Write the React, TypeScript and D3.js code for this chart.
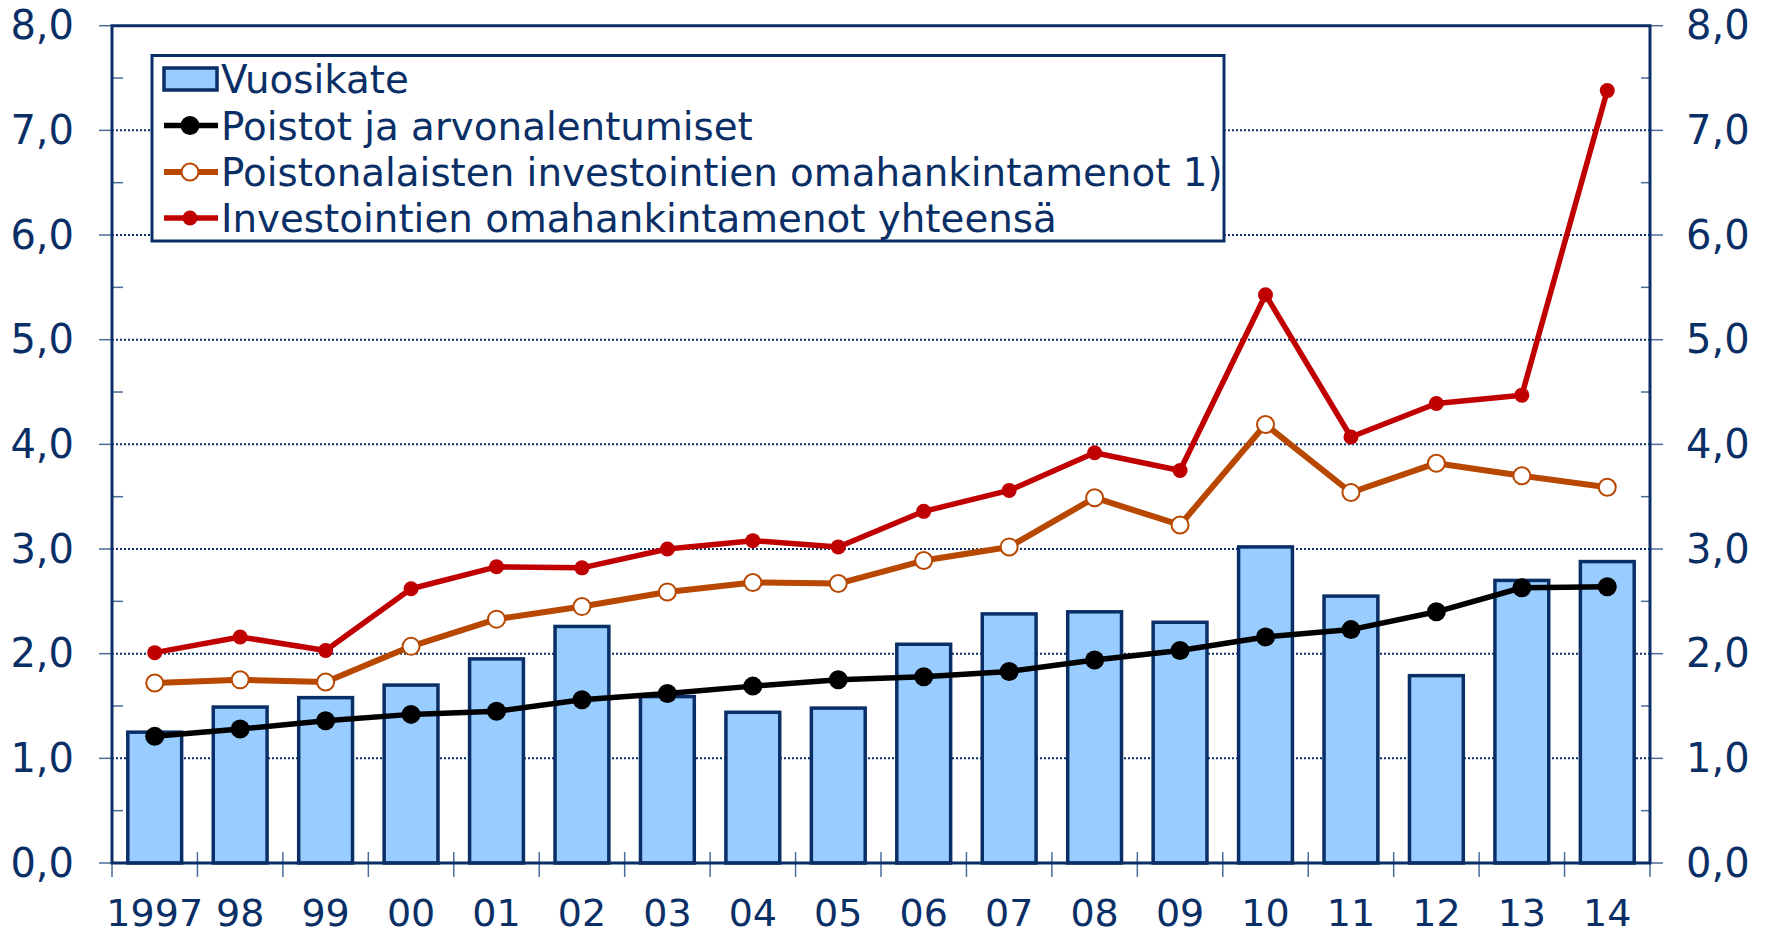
import React from "react";
import * as d3 from "d3";

const categories = ["1997", "98", "99", "00", "01", "02", "03", "04", "05", "06", "07", "08", "09", "10", "11", "12", "13", "14"];
const vuosikate = [1.25, 1.49, 1.58, 1.70, 1.95, 2.26, 1.59, 1.44, 1.48, 2.09, 2.38, 2.40, 2.30, 3.02, 2.55, 1.79, 2.70, 2.88];
const poistot = [1.21, 1.28, 1.36, 1.42, 1.45, 1.56, 1.62, 1.69, 1.75, 1.78, 1.83, 1.94, 2.03, 2.16, 2.23, 2.40, 2.63, 2.64];
const poistonalaiset = [1.72, 1.75, 1.73, 2.07, 2.33, 2.45, 2.59, 2.68, 2.67, 2.89, 3.02, 3.49, 3.23, 4.19, 3.54, 3.82, 3.70, 3.59];
const yhteensa = [2.01, 2.16, 2.03, 2.62, 2.83, 2.82, 3.00, 3.08, 3.02, 3.36, 3.56, 3.92, 3.75, 5.43, 4.07, 4.39, 4.47, 7.38];
const yTicks = [0, 1, 2, 3, 4, 5, 6, 7, 8];
const legendLabels = [
  "Vuosikate",
  "Poistot ja arvonalentumiset",
  "Poistonalaisten investointien omahankintamenot 1)",
  "Investointien omahankintamenot yhteensä",
];

const W = 1769;
const H = 932;
const L = 112;
const R = 1650;
const T = 25.7;
const B = 863;
const NAVY = "#0A2F66";
const TICK = "#4A6C9B";
const BAR = "#99CCFF";
const RED = "#C00000";
const ORANGE = "#B84700";
const FONT = "'DejaVu Sans', Verdana, sans-serif";

export default function App() {
  const x = d3.scaleBand<string>().domain(categories).range([L, R]).paddingInner(0).paddingOuter(0);
  const y = d3.scaleLinear().domain([0, 8]).range([B, T]);
  const bw = x.bandwidth();
  const barW = bw * 0.63;
  const cx = (i: number) => (x(categories[i]) as number) + bw / 2;
  const line = d3
    .line<number>()
    .x((_, i) => cx(i))
    .y((d) => y(d));
  const minor = d3.range(0.5, 8, 1);
  const fmt = (t: number) => d3.format(".1f")(t).replace(".", ",");

  const legRows = [79, 125.5, 172, 218];

  return (
    <svg width={W} height={H} style={{ position: "absolute", left: 0, top: 0, display: "block", background: "#fff" }} fontFamily={FONT}>
      {/* gridlines */}
      {yTicks.filter((t) => t > 0 && t < 8).map((t) => (
        <line key={"g" + t} x1={L} x2={R} y1={y(t)} y2={y(t)} stroke={NAVY} strokeWidth={2} strokeDasharray="2,2" />
      ))}
      {/* bars */}
      {vuosikate.map((v, i) => (
        <rect key={"b" + i} x={cx(i) - barW / 2} y={y(v)} width={barW} height={B - y(v)} fill={BAR} stroke={NAVY} strokeWidth={3.5} />
      ))}
      {/* ticks */}
      {yTicks.map((t) => (
        <g key={"t" + t}>
          <line x1={L - 13} x2={L} y1={y(t)} y2={y(t)} stroke={TICK} strokeWidth={1.5} />
          <line x1={R} x2={R + 13} y1={y(t)} y2={y(t)} stroke={TICK} strokeWidth={1.5} />
        </g>
      ))}
      {minor.map((t) => (
        <g key={"m" + t}>
          <line x1={L} x2={L + 11} y1={y(t)} y2={y(t)} stroke={TICK} strokeWidth={1.5} />
          <line x1={R - 9} x2={R} y1={y(t)} y2={y(t)} stroke={TICK} strokeWidth={1.5} />
        </g>
      ))}
      {categories.map((c, i) => (
        <line key={"xt" + i} x1={(x(c) as number)} x2={(x(c) as number)} y1={i === 0 ? B : B - 11} y2={B + 14} stroke={TICK} strokeWidth={1.5} />
      ))}
      <line x1={R} x2={R} y1={B - 11} y2={B + 14} stroke={TICK} strokeWidth={1.5} />
      {/* frame */}
      <path d={`M${L},${B} L${L},${T} L${R},${T} L${R},${B} Z`} fill="none" stroke={NAVY} strokeWidth={3} />
      {/* lines */}
      <path d={line(poistonalaiset) || ""} fill="none" stroke={ORANGE} strokeWidth={6} strokeLinejoin="round" />
      <path d={line(yhteensa) || ""} fill="none" stroke={RED} strokeWidth={5.5} strokeLinejoin="round" />
      <path d={line(poistot) || ""} fill="none" stroke="#000" strokeWidth={5.5} strokeLinejoin="round" />
      {poistonalaiset.map((v, i) => (
        <circle key={"o" + i} cx={cx(i)} cy={y(v)} r={8.5} fill="#fff" stroke={ORANGE} strokeWidth={2} />
      ))}
      {yhteensa.map((v, i) => (
        <circle key={"r" + i} cx={cx(i)} cy={y(v)} r={7.5} fill={RED} />
      ))}
      {poistot.map((v, i) => (
        <circle key={"k" + i} cx={cx(i)} cy={y(v)} r={9.5} fill="#000" />
      ))}
      {/* axis labels */}
      {yTicks.map((t) => (
        <g key={"yl" + t} fontSize={40} fill={NAVY}>
          <text x={74} y={y(t) + 13.5} textAnchor="end">{fmt(t)}</text>
          <text x={1686} y={y(t) + 13.5} textAnchor="start">{fmt(t)}</text>
        </g>
      ))}
      {categories.map((c, i) => (
        <text key={"xl" + i} x={cx(i)} y={926} textAnchor="middle" fontSize={38} fill={NAVY}>{c}</text>
      ))}
      {/* legend */}
      <rect x={152} y={55.5} width={1072} height={185.5} fill="#fff" stroke={NAVY} strokeWidth={3} />
      <rect x={164} y={68} width={53} height={22} fill={BAR} stroke={NAVY} strokeWidth={3.5} />
      <line x1={164} x2={218} y1={legRows[1]} y2={legRows[1]} stroke="#000" strokeWidth={5.5} />
      <circle cx={190} cy={legRows[1]} r={9.5} fill="#000" />
      <line x1={164} x2={218} y1={legRows[2]} y2={legRows[2]} stroke={ORANGE} strokeWidth={6} />
      <circle cx={190} cy={legRows[2]} r={8.5} fill="#fff" stroke={ORANGE} strokeWidth={2} />
      <line x1={164} x2={218} y1={legRows[3]} y2={legRows[3]} stroke={RED} strokeWidth={5.5} />
      <circle cx={190} cy={legRows[3]} r={7.5} fill={RED} />
      {legendLabels.map((s, i) => (
        <text key={"lg" + i} x={221} y={legRows[i] + 14} fontSize={38.8} fill={NAVY}>{s}</text>
      ))}
    </svg>
  );
}
